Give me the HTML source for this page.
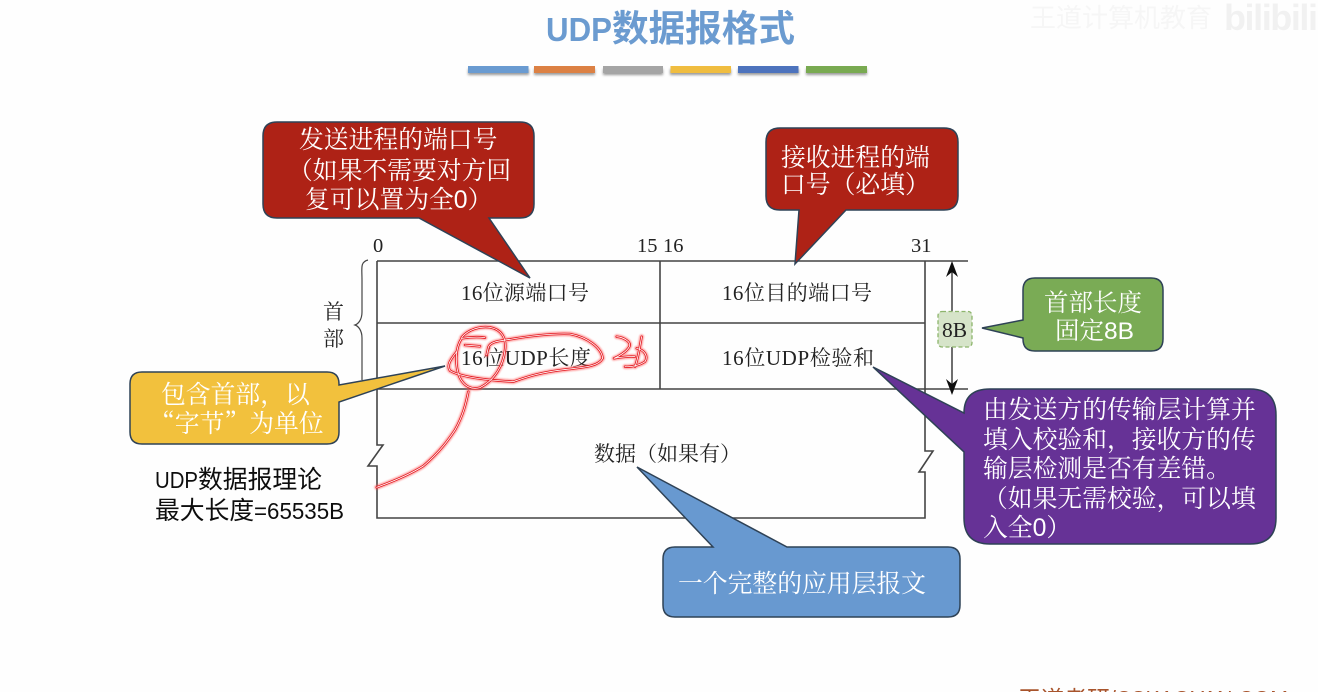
<!DOCTYPE html>
<html><head><meta charset="utf-8"><style>
html,body{margin:0;padding:0;background:#fff;width:1318px;height:692px;overflow:hidden}
svg{display:block;text-spacing-trim:space-all;font-feature-settings:"chws" 0,"palt" 0,"halt" 0}
text{text-spacing-trim:space-all}
.s{font-family:"Liberation Serif","Noto Serif CJK SC",serif;fill:#222}
.w{font-family:"Liberation Sans","Noto Serif CJK SC",serif;fill:#fff;font-size:24.8px}
.c{stroke:#2f4256;stroke-width:1.5}
</style></head><body>
<svg width="1318" height="692" viewBox="0 0 1318 692" xmlns="http://www.w3.org/2000/svg">
<defs>
<filter id="b"><feGaussianBlur stdDeviation="0.35"/></filter>
<filter id="g" x="-20%" y="-20%" width="140%" height="140%"><feGaussianBlur stdDeviation="2"/></filter>
<filter id="sh" x="-10%" y="-50%" width="120%" height="300%"><feGaussianBlur stdDeviation="1.2"/></filter>
<g id="ink" fill="none" stroke-linecap="round" stroke-linejoin="round">
<path d="M365 322C385 298 420 288 450 292C485 298 500 325 495 360C490 405 465 450 420 473C395 480 372 470 358 440C345 405 345 355 365 325C385 322 415 320 435 323"/>
<path d="M375 345L420 349"/>
<path d="M350 365C335 385 318 405 330 422C360 440 430 450 520 455C550 445 590 428 680 418C730 412 775 410 788 385C785 355 745 322 690 312C640 310 570 318 510 328C480 332 450 335 445 352L440 375"/>
<path d="M385 485C378 520 370 555 345 600C325 630 300 665 250 708C215 730 165 752 110 772"/>
<path d="M830 320C850 322 875 335 868 350C860 365 835 380 822 385C840 382 865 378 885 380"/>
<path d="M905 320C900 345 895 385 885 410M890 355C915 360 925 380 915 395C900 405 875 412 855 410"/>
</g>
</defs>
<rect width="1318" height="692" fill="#fefefe"/>

<!-- watermark -->
<text x="1030" y="27" font-family="'Noto Sans CJK SC',sans-serif" font-size="26" fill="#f6f6f6">王道计算机教育</text>
<text x="1224" y="30" font-family="'Liberation Sans',sans-serif" font-weight="bold" font-size="36" fill="#f1f1f1" textLength="94">bilibili</text>

<!-- title -->
<text x="546" y="41" font-family="'Liberation Sans',sans-serif" font-weight="bold" font-size="33" fill="#6b9bd0" textLength="66" lengthAdjust="spacingAndGlyphs">UDP</text>
<text x="612" y="41" font-family="'Noto Sans CJK SC',sans-serif" font-weight="bold" font-size="36.600" fill="#6b9bd0">数据报格式</text>

<!-- bars -->
<g filter="url(#sh)" fill="#999"><rect x="468" y="69" width="61" height="6"/><rect x="534" y="69" width="61" height="6"/><rect x="603" y="69" width="60" height="6"/><rect x="670" y="69" width="61" height="6"/><rect x="738" y="69" width="61" height="6"/><rect x="806" y="69" width="61" height="6"/></g>
<rect x="468" y="66" width="60.500" height="7" fill="#6a9bd1"/>
<rect x="534" y="66" width="61" height="7" fill="#dc8144"/>
<rect x="603" y="66" width="60" height="7" fill="#a5a5a5"/>
<rect x="670.500" y="66" width="60.500" height="7" fill="#f0bd40"/>
<rect x="738" y="66" width="60.500" height="7" fill="#4d73bd"/>
<rect x="806" y="66" width="61" height="7" fill="#79aa51"/>

<g filter="url(#b)">
<!-- table -->
<g fill="none" stroke="#444" stroke-width="1.600">
<path d="M377 261H968M377 323H925M377 389H968"/>
<path d="M660 261V389"/>
<path d="M377 261V445H383L368 466H377V518H925V472H919L933 451H925V261"/>
<path d="M368 260C360 262 362 268 362 280V312C362 320 358 324 355 325C358 326 362 330 362 338V380" stroke-width="1.200"/>
<path d="M952 266V392" stroke="#222" stroke-width="1.300"/>
</g>
<path d="M952 261L958 277L952 272L946 277Z M952 395L958 379L952 384L946 379Z" fill="#111"/>
<g class="s" font-size="20.500">
<text x="373" y="252">0</text><text x="637" y="252">15</text><text x="663" y="252">16</text><text x="911" y="252">31</text>
</g>
<g class="s" font-size="21">
<text x="461" y="300" textLength="128">16位源端口号</text>
<text x="722" y="300" textLength="150">16位目的端口号</text>
<text x="461" y="365" textLength="130">16位UDP长度</text>
<text x="722" y="365" textLength="152">16位UDP检验和</text>
<text x="594" y="461">数据（如果有）</text>
<text x="323" y="319">首</text><text x="323" y="346">部</text>
</g>

<!-- 8B -->
<rect x="938" y="311.500" width="34" height="35.500" rx="4" fill="#d6e4c9" stroke="#8db56c" stroke-width="1.300" stroke-dasharray="4 2.500"/>
<text class="s" x="942" y="337" font-size="21.500" fill="#333">8B</text>

<!-- red 1 -->
<path class="c" fill="#ae2318" d="M277 122H520Q534 122 534 136V204Q534 218 520 218H489L530 278L419 218H277Q263 218 263 204V136Q263 122 277 122Z"/>
<g class="w"><text x="299" y="148">发送进程的端口号</text>
<text x="288" y="179">（如果不需要对方回</text>
<text x="305" y="208">复可以置为全0）</text></g>

<!-- red 2 -->
<path class="c" fill="#ae2318" d="M780 128H944Q958 128 958 142V196Q958 210 944 210H846L795 264L799 210H780Q766 210 766 196V142Q766 128 780 128Z"/>
<g class="w"><text x="781" y="166">接收进程的端</text>
<text x="781" y="193">口号（必填）</text></g>

<!-- yellow -->
<path class="c" fill="#f2c13e" d="M142 372H327Q339 372 339 384V385L445 366L339 402V432Q339 444 327 444H142Q130 444 130 432V384Q130 372 142 372Z"/>
<g font-family="'Noto Serif CJK SC',serif" fill="#fff" font-size="24.800"><text x="161" y="403">包含首部，以</text>
<text x="150" y="432">“字节”为单位</text></g>

<!-- green -->
<path class="c" fill="#7aab54" d="M1035 278H1151Q1163 278 1163 290V339Q1163 351 1151 351H1035Q1023 351 1023 339V338L982 328L1023 320V290Q1023 278 1035 278Z"/>
<g class="w"><text x="1044" y="311" style="font-size:24.500px">首部长度</text><text x="1055" y="339" style="font-size:24.500px">固定8B</text></g>

<!-- purple -->
<path class="c" fill="#663096" d="M990 389H1250Q1276 389 1276 415V518Q1276 544 1250 544H990Q964 544 964 518V452L873 367L964 413Q964 389 990 389Z"/>
<g class="w"><text x="983" y="418">由发送方的传输层计算并</text>
<text x="983" y="448">填入校验和，接收方的传</text>
<text x="983" y="477">输层检测是否有差错。</text>
<text x="983" y="507">（如果无需校验，可以填</text>
<text x="983" y="536">入全0）</text></g>

<!-- blue -->
<path class="c" fill="#6899d0" d="M675 547H713L637 467L787 547H948Q960 547 960 559V605Q960 617 948 617H675Q663 617 663 605V559Q663 547 675 547Z"/>
<text class="w" x="678" y="592">一个完整的应用层报文</text>

<!-- left note -->
<g font-family="'Liberation Sans','Noto Sans CJK SC',sans-serif" font-size="24.800" fill="#111">
<text x="155" y="488" textLength="43" lengthAdjust="spacingAndGlyphs" style="font-size:23px">UDP</text>
<text x="198" y="488">数据报理论</text>
<text x="155" y="519">最大长度</text>
<text x="254" y="519" textLength="90" lengthAdjust="spacingAndGlyphs" style="font-size:23px">=65535B</text></g>
</g>

<!-- ink -->
<g transform="translate(340 230) scale(.33333)">
<use href="#ink" stroke="#f55" stroke-width="15" opacity=".5" filter="url(#g)"/>
<use href="#ink" stroke="#e2141c" stroke-width="7"/>
<use href="#ink" stroke="#fff" stroke-width="2.400"/>
</g>

<!-- footer -->
<text x="1018" y="707" font-family="'Noto Sans CJK SC',sans-serif" font-size="23" fill="#a8542c">王道考研</text>
<text x="1110" y="707" font-family="'Liberation Sans',sans-serif" font-size="23" fill="#a8542c" textLength="178" lengthAdjust="spacingAndGlyphs">/CSKAOYAN.COM</text>
</svg>
</body></html>
